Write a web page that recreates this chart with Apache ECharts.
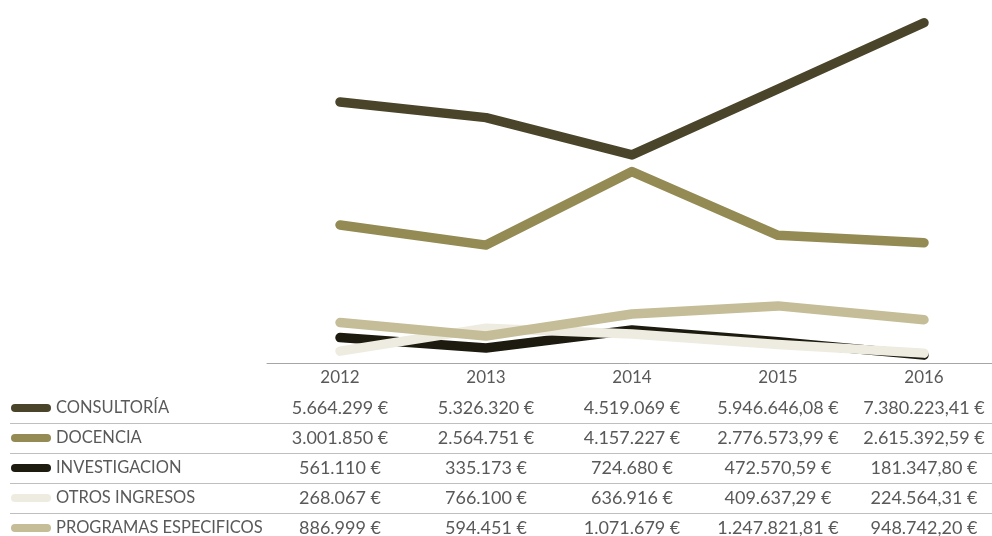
<!DOCTYPE html>
<html>
<head>
<meta charset="utf-8">
<script src="https://cdn.jsdelivr.net/npm/echarts@6/dist/echarts.min.js"></script>
<style>html,body{margin:0;padding:0;background:#fff}#c{width:992px;height:536px}</style>
</head>
<body>
<div id="c"></div>
<script>
var years = ['2012', '2013', '2014', '2015', '2016'];
var seriesNames = ['CONSULTORÍA', 'DOCENCIA', 'INVESTIGACION', 'OTROS INGRESOS', 'PROGRAMAS ESPECIFICOS'];
var consultoria = [5664299, 5326320, 4519069, 5946646.08, 7380223.41];
var docencia = [3001850, 2564751, 4157227, 2776573.99, 2615392.59];
var investigacion = [561110, 335173, 724680, 472570.59, 181347.80];
var otrosIngresos = [268067, 766100, 636916, 409637.29, 224564.31];
var programasEspecificos = [886999, 594451, 1071679, 1247821.81, 948742.20];

var allData = [consultoria, docencia, investigacion, otrosIngresos, programasEspecificos];
var colors = ['#4a452a', '#948a54', '#1d1b10', '#eeece1', '#c4bd97'];
var FONT = 'Lato';
var TXT = '#595959';

function fmt(v) {
  var dec = Number.isInteger(v) ? 0 : 2;
  var s = v.toFixed(dec);
  var parts = s.split('.');
  var ip = parts[0].replace(/\B(?=(\d{3})+(?!\d))/g, '.');
  return ip + (dec ? ',' + parts[1] : '') + ' €';
}

var chart = echarts.init(document.getElementById('c'), null, {renderer: 'canvas'});

var xAxes = [{
  type: 'category', data: years, gridIndex: 0, position: 'bottom', boundaryGap: true,
  axisLine: {show: true, lineStyle: {color: '#a6a6a6', width: 1}},
  axisTick: {show: false},
  axisLabel: {margin: 6, interval: 0, hideOverlap: false, color: TXT, fontFamily: FONT, fontSize: 17}
}];
allData.forEach(function (arr, k) {
  xAxes.push({
    type: 'category', data: years, gridIndex: 0, position: 'bottom', offset: 30 * (k + 1),
    axisLine: {show: false}, axisTick: {show: false}, splitLine: {show: false},
    axisLabel: {
      margin: 6, interval: 0, hideOverlap: false, color: TXT, fontFamily: FONT, fontSize: 18,
      formatter: function (v, i) { return fmt(arr[i]); }
    }
  });
});

var graphics = [];
[423.5, 453.5, 483.5, 513.5].forEach(function (y) {
  graphics.push({type: 'line', shape: {x1: 10, y1: y, x2: 992, y2: y}, style: {stroke: '#bfbfbf', lineWidth: 1}, silent: true});
});

var capsule = 'path://M4,0 L36,0 A4,4 0 0 1 36,8 L4,8 A4,4 0 0 1 4,0 Z';

chart.setOption({
  animation: false,
  backgroundColor: '#fff',
  grid: {left: 267, top: 0, width: 730, height: 363.5, containLabel: false, outerBoundsMode: 'none'},
  xAxis: xAxes,
  yAxis: {type: 'value', min: 0, max: 7874000, show: false, splitLine: {show: false}},
  legend: {
    orient: 'vertical', left: 11, top: 398, height: 200, padding: 0, itemGap: 10, itemWidth: 40, itemHeight: 8,
    icon: capsule, data: seriesNames,
    textStyle: {color: TXT, fontFamily: FONT, fontSize: 16.5, lineHeight: 20},
    selectedMode: false
  },
  graphic: graphics,
  series: allData.map(function (arr, k) {
    return {
      name: seriesNames[k], type: 'line', data: arr, xAxisIndex: 0,
      symbol: 'none', smooth: false, color: colors[k],
      lineStyle: {color: colors[k], width: 9.5, cap: 'round', join: 'round'}
    };
  })
});
</script>
</body>
</html>
